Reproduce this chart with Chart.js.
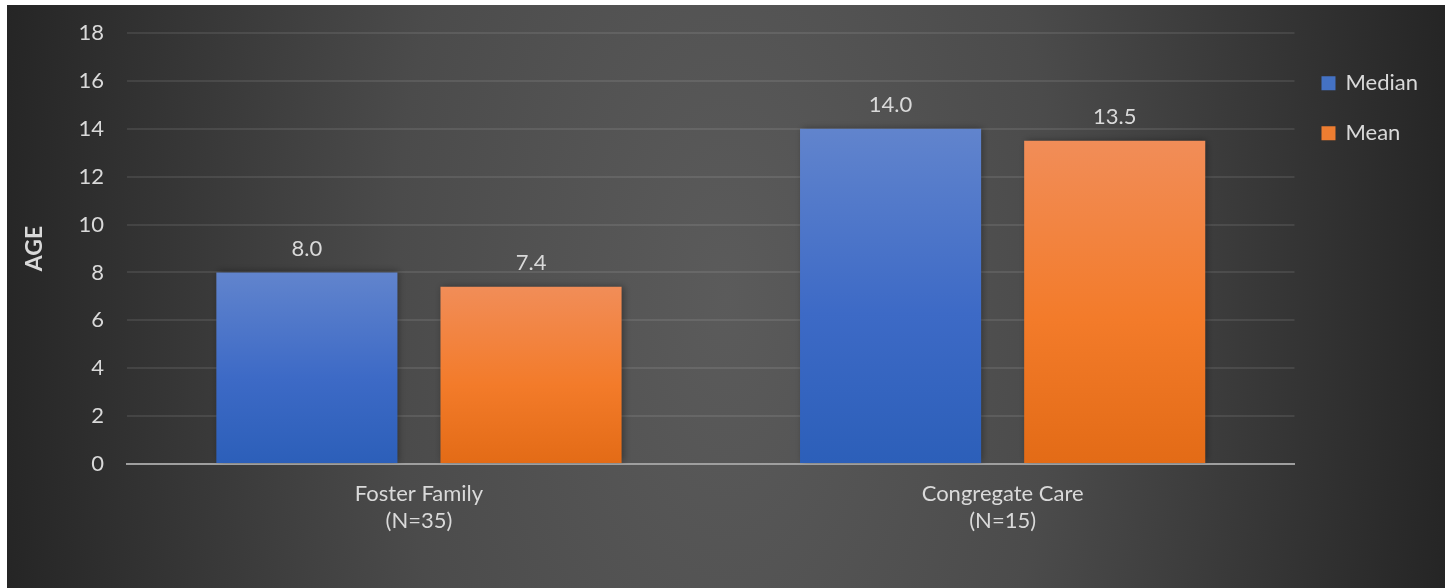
<!DOCTYPE html>
<html>
<head>
<meta charset="utf-8">
<script src="https://cdn.jsdelivr.net/npm/chart.js@4/dist/chart.umd.min.js"></script>
<style>
  html, body { margin: 0; padding: 0; background: #ffffff; }
  #wrap { position: absolute; left: 7px; top: 5px; width: 1438px; height: 583px; }
</style>
</head>
<body>
<div id="wrap"><canvas id="c"></canvas></div>
<script>
const categories = [["Foster Family", "(N=35)"], ["Congregate Care", "(N=15)"]];
const seriesNames = ["Median", "Mean"];
const medianValues = [8.0, 14.0];
const meanValues = [7.4, 13.5];
const yTicksMin = 0;
const yTicksMax = 18;
const yTickStep = 2;
const yAxisTitle = "AGE";

const FONT = "Lato, 'Open Sans', sans-serif";
const TEXT = "#d9d9d9";
const FS = 22;

const palettes = [
  { top: "#6184cd", mid: "#3d6ac6", bottom: "#2c5fb9", solid: "#4472c4" },
  { top: "#f18d58", mid: "#f37b2a", bottom: "#e36b16", solid: "#ed7d31" }
];

function barGradient(idx) {
  return function (ctx) {
    const chart = ctx.chart;
    const ys = chart.scales && chart.scales.y;
    if (!chart.chartArea || !ys || ctx.type !== "data") return palettes[idx].solid;
    const v = ctx.raw;
    const yTop = ys.getPixelForValue(v);
    const yBot = ys.getPixelForValue(0);
    if (!isFinite(yTop) || !isFinite(yBot) || yTop === yBot) return palettes[idx].solid;
    const g = chart.ctx.createLinearGradient(0, yTop, 0, yBot);
    g.addColorStop(0, palettes[idx].top);
    g.addColorStop(0.55, palettes[idx].mid);
    g.addColorStop(1, palettes[idx].bottom);
    return g;
  };
}

const bgPlugin = {
  id: "bg",
  beforeDraw(chart) {
    const { ctx, width, height } = chart;
    ctx.save();
    ctx.translate(width / 2, height / 2);
    ctx.scale(1, 2);
    const g = ctx.createRadialGradient(0, 0, 0, 0, 0, 735);
    g.addColorStop(0, "#5b5b5b");
    g.addColorStop(0.45, "#4b4b4b");
    g.addColorStop(1, "#252525");
    ctx.fillStyle = g;
    ctx.fillRect(-width / 2, -height / 4, width, height / 2);
    ctx.restore();
  }
};

const shadowPlugin = {
  id: "barShadow",
  beforeDatasetsDraw(chart) {
    const ctx = chart.ctx;
    ctx.save();
    ctx.shadowColor = "rgba(0,0,0,0.35)";
    ctx.shadowBlur = 7;
    ctx.shadowOffsetX = 2;
    ctx.shadowOffsetY = -1;
  },
  afterDatasetsDraw(chart) {
    chart.ctx.restore();
  }
};

const labelPlugin = {
  id: "valueLabels",
  afterDatasetsDraw(chart) {
    const ctx = chart.ctx;
    ctx.save();
    ctx.font = FS + "px " + FONT;
    ctx.fillStyle = TEXT;
    ctx.textAlign = "center";
    ctx.textBaseline = "middle";
    chart.data.datasets.forEach((ds, i) => {
      const meta = chart.getDatasetMeta(i);
      meta.data.forEach((el, j) => {
        ctx.fillText(Number(ds.data[j]).toFixed(1), el.x, el.y - 24);
      });
    });
    ctx.restore();
  }
};

new Chart(document.getElementById("c"), {
  type: "bar",
  data: {
    labels: categories,
    datasets: [
      { label: seriesNames[0], data: medianValues, backgroundColor: barGradient(0) },
      { label: seriesNames[1], data: meanValues, backgroundColor: barGradient(1) }
    ]
  },
  options: {
    responsive: true,
    maintainAspectRatio: false,
    animation: false,
    categoryPercentage: 0.768,
    barPercentage: 0.808,
    layout: { padding: { left: 10, right: 17, top: 28, bottom: 37 } },
    plugins: {
      tooltip: { enabled: false },
      legend: {
        position: "right",
        align: "start",
        title: { display: true, text: "", font: { size: 1 }, padding: { top: 5, bottom: 5 } },
        labels: {
          usePointStyle: true,
          boxWidth: 12,
          boxHeight: 14,
          padding: 28,
          color: TEXT,
          font: { family: FONT, size: FS },
          generateLabels(chart) {
            return chart.data.datasets.map((ds, i) => ({
              text: ds.label,
              fillStyle: palettes[i].solid,
              strokeStyle: palettes[i].solid,
              lineWidth: 0,
              pointStyle: "rect",
              fontColor: TEXT,
              datasetIndex: i
            }));
          }
        }
      }
    },
    scales: {
      x: {
        z: 1,
        grid: { display: false, drawTicks: false },
        border: { display: true, color: "#9f9f9f", width: 2 },
        ticks: {
          color: TEXT,
          padding: 16,
          font: { family: FONT, size: FS, lineHeight: 1.25 },
          maxRotation: 0
        }
      },
      y: {
        min: yTicksMin,
        max: yTicksMax,
        border: { display: false },
        grid: {
          drawTicks: false,
          color: (c) => (c.tick && c.tick.value === 0 ? "rgba(0,0,0,0)" : "rgba(255,255,255,0.09)"),
          lineWidth: 2
        },
        ticks: {
          stepSize: yTickStep,
          color: TEXT,
          padding: 23,
          font: { family: FONT, size: FS, lineHeight: 0.4 }
        },
        title: {
          display: true,
          text: yAxisTitle,
          color: TEXT,
          font: { family: FONT, size: 23, weight: "bold" },
          padding: { top: 4, bottom: 7 }
        }
      }
    }
  },
  plugins: [bgPlugin, shadowPlugin, labelPlugin]
});
</script>
</body>
</html>
